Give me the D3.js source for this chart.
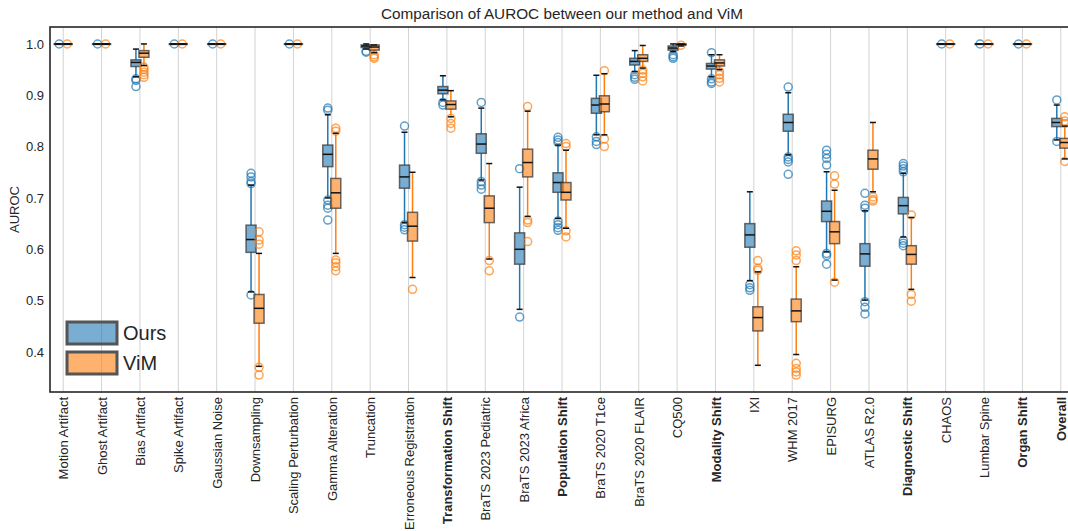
<!DOCTYPE html>
<html>
<head>
<meta charset="utf-8">
<script src="https://cdn.jsdelivr.net/npm/d3@7"></script>
<style>
  body { margin: 0; background: #fff; }
  text { font-family: "Liberation Sans", Arial, sans-serif; fill: #262626; }
</style>
</head>
<body>
<div id="chart"></div>
<script>
// categories, bold ones are the shift groups
var categories = ["Motion Artifact", "Ghost Artifact", "Bias Artifact", "Spike Artifact", "Gaussian Noise",
  "Downsampling", "Scaling Perturbation", "Gamma Alteration", "Truncation", "Erroneous Registration",
  "Transformation Shift", "BraTS 2023 Pediatric", "BraTS 2023 Africa", "Population Shift",
  "BraTS 2020 T1ce", "BraTS 2020 FLAIR", "CQ500", "Modality Shift", "IXI", "WHM 2017", "EPISURG",
  "ATLAS R2.0", "Diagnostic Shift", "CHAOS", "Lumbar Spine", "Organ Shift", "Overall"];
var boldCategories = ["Transformation Shift", "Population Shift", "Modality Shift", "Diagnostic Shift", "Organ Shift", "Overall"];
var yTicks = [0.4, 0.5, 0.6, 0.7, 0.8, 0.9, 1.0];

// Ours: whisker low, q1, median, q3, whisker high, outliers
var oursLo  = [1, 1, 0.936, 1, 1, 0.517, 1, 0.700, 0.990, 0.652, 0.891, 0.735, 0.483, 0.660, 0.823, 0.946, 0.985, 0.936, 0.539, 0.784, 0.595, 0.501, 0.624, 1, 1, 1, 0.813];
var oursQ1  = [1, 1, 0.956, 1, 1, 0.594, 1, 0.761, 0.993, 0.719, 0.903, 0.787, 0.571, 0.711, 0.865, 0.959, 0.988, 0.951, 0.604, 0.830, 0.654, 0.567, 0.669, 1, 1, 1, 0.839];
var oursMed = [1, 1, 0.964, 1, 1, 0.619, 1, 0.785, 0.996, 0.741, 0.910, 0.805, 0.600, 0.730, 0.881, 0.966, 0.992, 0.957, 0.628, 0.847, 0.674, 0.591, 0.685, 1, 1, 1, 0.847];
var oursQ3  = [1, 1, 0.969, 1, 1, 0.647, 1, 0.803, 0.998, 0.764, 0.917, 0.825, 0.632, 0.749, 0.894, 0.972, 0.996, 0.962, 0.650, 0.863, 0.694, 0.611, 0.701, 1, 1, 1, 0.855];
var oursHi  = [1, 1, 0.990, 1, 1, 0.725, 1, 0.862, 1.000, 0.828, 0.938, 0.875, 0.721, 0.803, 0.939, 0.987, 1.000, 0.979, 0.712, 0.905, 0.751, 0.675, 0.748, 1, 1, 1, 0.881];
var oursOut = [
  [0.9999], [0.9999], [0.932, 0.929, 0.917], [0.9999], [0.9999],
  [0.748, 0.741, 0.732, 0.728, 0.511], [0.9999], [0.875, 0.871, 0.696, 0.686, 0.680, 0.657],
  [0.986, 0.984], [0.840, 0.648, 0.643, 0.638], [0.886, 0.881], [0.886, 0.732, 0.725, 0.717],
  [0.757, 0.468], [0.818, 0.813, 0.808, 0.655, 0.648, 0.642, 0.637], [0.819, 0.810, 0.804],
  [0.940, 0.935, 0.931], [0.979, 0.975, 0.972], [0.983, 0.932, 0.926, 0.923], [0.531, 0.525, 0.520],
  [0.916, 0.780, 0.775, 0.770, 0.746], [0.793, 0.785, 0.777, 0.764, 0.592, 0.588, 0.571],
  [0.709, 0.686, 0.680, 0.498, 0.487, 0.474], [0.767, 0.762, 0.757, 0.751, 0.617, 0.612, 0.607],
  [0.9999], [0.9999], [0.9999], [0.891, 0.810]];

// ViM
var vimLo  = [1, 1, 0.958, 1, 1, 0.372, 1, 0.592, 0.983, 0.545, 0.858, 0.581, 0.664, 0.641, 0.823, 0.953, 0.996, 0.950, 0.374, 0.395, 0.540, 0.712, 0.522, 1, 1, 1, 0.776];
var vimQ1  = [1, 1, 0.974, 1, 1, 0.456, 1, 0.680, 0.988, 0.616, 0.873, 0.652, 0.741, 0.696, 0.868, 0.966, 0.998, 0.957, 0.441, 0.459, 0.611, 0.756, 0.571, 1, 1, 1, 0.797];
var vimMed = [1, 1, 0.982, 1, 1, 0.485, 1, 0.710, 0.994, 0.645, 0.882, 0.680, 0.769, 0.711, 0.883, 0.972, 0.999, 0.963, 0.467, 0.480, 0.634, 0.776, 0.590, 1, 1, 1, 0.808];
var vimQ3  = [1, 1, 0.987, 1, 1, 0.512, 1, 0.738, 0.998, 0.672, 0.889, 0.704, 0.795, 0.730, 0.899, 0.979, 1.000, 0.969, 0.488, 0.503, 0.654, 0.793, 0.607, 1, 1, 1, 0.816];
var vimHi  = [1, 1, 1.000, 1, 1, 0.592, 1, 0.826, 0.998, 0.750, 0.909, 0.767, 0.869, 0.793, 0.942, 0.997, 1.000, 0.979, 0.556, 0.566, 0.715, 0.847, 0.662, 1, 1, 1, 0.840];
var vimOut = [
  [0.9999], [0.9999], [0.955, 0.950, 0.945, 0.940, 0.935], [0.9999], [0.9999],
  [0.634, 0.618, 0.610, 0.370, 0.355], [0.9999], [0.836, 0.830, 0.579, 0.574, 0.566, 0.558],
  [0.979, 0.975, 0.972], [0.522], [0.855, 0.845, 0.836], [0.578, 0.558],
  [0.878, 0.657, 0.652, 0.615], [0.806, 0.800, 0.636, 0.624], [0.948, 0.815, 0.800],
  [0.949, 0.943, 0.936, 0.928], [0.9975], [0.946, 0.940, 0.933, 0.926], [0.578, 0.563, 0.559],
  [0.597, 0.589, 0.578, 0.378, 0.368, 0.361, 0.355], [0.743, 0.727, 0.536],
  [0.702, 0.697, 0.694], [0.667, 0.512, 0.499],
  [0.9999], [0.9999], [0.9999], [0.858, 0.850, 0.845, 0.771]];

var width = 1068, height = 531;
var margin = {top: 27, right: -6, bottom: 139, left: 50};
var plotW = width - margin.left - margin.right,
    plotH = height - margin.top - margin.bottom;

var svg = d3.select("#chart").append("svg")
  .attr("width", width)
  .attr("height", height);

var x = d3.scalePoint().domain(categories).range([margin.left, margin.left + plotW]).padding(0.344);
var y = d3.scaleLinear().domain([0.322, 1.033]).range([margin.top + plotH, margin.top]);

var series = [
  {name: "Ours", color: "#1f77b4", offset: -4, lo: oursLo, q1: oursQ1, med: oursMed, q3: oursQ3, hi: oursHi, out: oursOut},
  {name: "ViM", color: "#ff7f0e", offset: 4, lo: vimLo, q1: vimQ1, med: vimMed, q3: vimQ3, hi: vimHi, out: vimOut}
];
var boxW = 10, capW = 6;

// vertical grid
svg.append("g")
  .selectAll("line")
  .data(categories)
  .enter().append("line")
  .attr("x1", d => x(d)).attr("x2", d => x(d))
  .attr("y1", margin.top).attr("y2", margin.top + plotH)
  .attr("stroke", "#d3d3d3")
  .attr("stroke-width", 1);

series.forEach(function(s) {
  var g = svg.append("g");
  var rows = categories.map(function(c, i) {
    return {cat: c, lo: s.lo[i], q1: s.q1[i], med: s.med[i], q3: s.q3[i], hi: s.hi[i], out: s.out[i]};
  });
  var cx = d => x(d.cat) + s.offset;

  // whiskers
  g.selectAll(".wl").data(rows).enter().append("line")
    .attr("x1", cx).attr("x2", cx)
    .attr("y1", d => y(d.lo)).attr("y2", d => y(d.q1))
    .attr("stroke", s.color).attr("stroke-width", 1.5);
  g.selectAll(".wh").data(rows).enter().append("line")
    .attr("x1", cx).attr("x2", cx)
    .attr("y1", d => y(d.q3)).attr("y2", d => y(d.hi))
    .attr("stroke", s.color).attr("stroke-width", 1.5);

  // fliers
  rows.forEach(function(d) {
    g.selectAll(null).data(d.out).enter().append("circle")
      .attr("cx", cx(d)).attr("cy", v => y(v))
      .attr("r", 4)
      .attr("fill", "none")
      .attr("stroke", s.color)
      .attr("stroke-opacity", 0.7)
      .attr("stroke-width", 1.5);
  });

  // boxes
  g.selectAll("rect").data(rows).enter().append("rect")
    .attr("x", d => cx(d) - boxW / 2)
    .attr("width", boxW)
    .attr("y", d => y(d.q3))
    .attr("height", d => Math.max(0.5, y(d.q1) - y(d.q3)))
    .attr("fill", s.color).attr("fill-opacity", 0.6)
    .attr("stroke", "#3a3a3a").attr("stroke-opacity", 0.75)
    .attr("stroke-width", 1.5);

  // caps
  ["lo", "hi"].forEach(function(k) {
    g.selectAll(".cap-" + k).data(rows).enter().append("line")
      .attr("x1", d => cx(d) - capW / 2).attr("x2", d => cx(d) + capW / 2)
      .attr("y1", d => y(d[k])).attr("y2", d => y(d[k]))
      .attr("stroke", "#111").attr("stroke-width", 1.5);
  });

  // medians
  g.selectAll(".med").data(rows).enter().append("line")
    .attr("x1", d => cx(d) - boxW / 2).attr("x2", d => cx(d) + boxW / 2)
    .attr("y1", d => y(d.med)).attr("y2", d => y(d.med))
    .attr("stroke", "#111").attr("stroke-width", 1.5);
});

// y axis
var yAxis = svg.append("g")
  .attr("transform", "translate(" + margin.left + ",0)")
  .call(d3.axisLeft(y).tickValues(yTicks).tickFormat(d3.format(".1f")).tickSize(0).tickPadding(6));
yAxis.select(".domain").remove();
yAxis.selectAll("text").style("font-size", "13px").attr("fill", "#262626");

// x axis
var xAxis = svg.append("g")
  .attr("transform", "translate(0," + (margin.top + plotH) + ")")
  .call(d3.axisBottom(x).tickSize(0).tickPadding(5));
xAxis.select(".domain").remove();
xAxis.selectAll("text")
  .style("font-size", "13px")
  .attr("fill", "#262626")
  .style("font-weight", d => boldCategories.indexOf(d) >= 0 ? "bold" : "normal")
  .attr("text-anchor", "end")
  .attr("transform", "rotate(-90)")
  .attr("x", -5)
  .attr("y", 0)
  .attr("dy", "0.35em");

// frame
svg.append("rect")
  .attr("x", margin.left).attr("y", margin.top)
  .attr("width", plotW).attr("height", plotH)
  .attr("fill", "none")
  .attr("stroke", "#262626")
  .attr("stroke-width", 1.6);

// title & y label
svg.append("text")
  .attr("x", margin.left + plotW / 2).attr("y", 19)
  .attr("text-anchor", "middle")
  .style("font-size", "15.3px")
  .text("Comparison of AUROC between our method and ViM");

svg.append("text")
  .attr("transform", "translate(19," + (margin.top + plotH / 2) + ") rotate(-90)")
  .attr("text-anchor", "middle")
  .style("font-size", "13px")
  .text("AUROC");

// legend
var legend = svg.append("g").attr("transform", "translate(67,322)");
series.forEach(function(s, i) {
  legend.append("rect")
    .attr("x", 0).attr("y", i * 30)
    .attr("width", 50).attr("height", 22)
    .attr("fill", s.color).attr("fill-opacity", 0.6)
    .attr("stroke", "#555").attr("stroke-width", 3);
  legend.append("text")
    .attr("x", 56).attr("y", i * 30 + 11)
    .attr("dy", "0.35em")
    .style("font-size", "20px")
    .text(s.name);
});
</script>
</body>
</html>
